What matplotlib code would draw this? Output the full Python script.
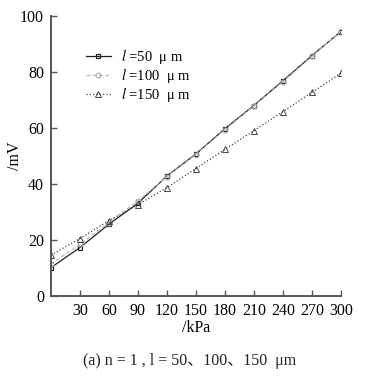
import matplotlib
matplotlib.use("Agg")
import matplotlib.pyplot as plt

# pressure (kPa) and output voltage (mV) for three lengths
pressure = [0, 30, 60, 90, 120, 150, 180, 210, 240, 270, 300]
v_l50 = [10.1, 17.3, 25.6, 33.1, 42.8, 50.7, 59.7, 68.0, 76.8, 85.8, 94.4]
v_l100 = [11.4, 18.4, 26.2, 33.9, 42.6, 50.5, 59.4, 67.8, 76.5, 85.5, 94.6]
v_l150 = [14.6, 20.5, 26.9, 32.6, 38.7, 45.5, 52.3, 59.0, 65.8, 72.7, 79.5]

x_ticks = [30, 60, 90, 120, 150, 180, 210, 240, 270, 300]
y_ticks = [0, 20, 40, 60, 80, 100]

plt.rcParams['font.family'] = ['Liberation Serif', 'DejaVu Serif']
plt.rcParams['mathtext.fontset'] = 'stix'

fig = plt.figure(figsize=(3.8, 3.78), dpi=100)
ax = fig.add_axes([0.134, 0.217, 0.763, 0.741])

ax.plot(pressure, v_l50, '-', color='#222222', lw=0.9, marker='s', ms=3.5,
        mfc='none', mec='#222222', mew=0.9, label='$l$ =50  μ m')
ax.plot(pressure, v_l100, '--', color='#bbbbbb', lw=0.9, marker='o', ms=3.5,
        mfc='none', mec='#aaaaaa', mew=0.8, dashes=(3, 2), label='$l$ =100  μ m')
ax.plot(pressure, v_l150, ':', color='#444444', lw=0.9, marker='^', ms=4,
        mfc='none', mec='#444444', mew=0.7, label='$l$ =150  μ m')

ax.set_xlim(0, 300)
ax.set_ylim(0, 100)
ax.set_xticks(x_ticks)
ax.set_yticks(y_ticks)
ax.tick_params(direction='in', length=4, width=1, color='#555555', labelsize=11.5, pad=5)

for s in ['top', 'right']:
    ax.spines[s].set_visible(False)
for s in ['left', 'bottom']:
    ax.spines[s].set_color('#555555')
    ax.spines[s].set_linewidth(1.4)

ax.set_ylabel('/mV', fontsize=11.5)
ax.yaxis.set_label_coords(-0.095, 0.5)
ax.set_xlabel('/kPa', fontsize=11.5, labelpad=1)

ax.legend(loc='upper left', bbox_to_anchor=(0.1, 0.91), frameon=False,
          fontsize=10.5, handlelength=1.7, labelspacing=0.0, handletextpad=0.7,
          borderaxespad=0)

fig.text(0.5, 0.035, '(a) n = 1 , l = 50、100、150  μm', ha='center', fontsize=11.5,
         color='#222222', family=['Liberation Serif', 'Noto Sans CJK SC'])

fig.savefig('out.png', dpi=100)
